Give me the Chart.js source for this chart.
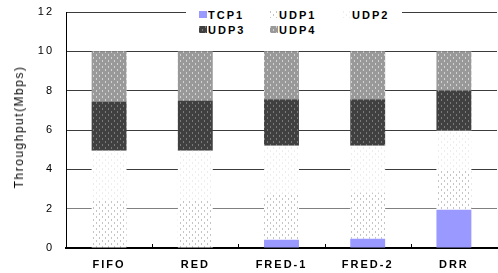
<!DOCTYPE html>
<html>
<head>
<meta charset="utf-8">
<script src="https://cdn.jsdelivr.net/npm/chart.js@4/dist/chart.umd.min.js"></script>
<style>
  body { margin: 0; background: #fff; }
  .wrap { position: relative; width: 498px; height: 273px; }
  canvas { position: absolute; left: 0; top: 0; }
  .legend {
    position: absolute; left: 186px; top: 7px; width: 216px; height: 31px;
    background: #fff; padding-left: 13px; box-sizing: border-box;
    display: grid; grid-template-columns: 71px 73px 72px; grid-auto-rows: 15px;
    font: bold 11px "Liberation Sans", Arial, sans-serif; letter-spacing: 2px; color: #000;
  }
  .legend__item { display: flex; align-items: center; white-space: nowrap; }
  .legend__box { width: 8px; height: 7px; margin-right: 1px; flex: none; }
  .y-title {
    position: absolute; left: 19px; top: 127px; white-space: nowrap;
    font: 12px "Liberation Sans", Arial, sans-serif; letter-spacing: 1.5px; color: #000;
    transform: translate(-50%, -50%) rotate(-90deg);
  }
</style>
</head>
<body>
<div class="wrap">
  <canvas id="chart" width="498" height="273"></canvas>
  <div class="legend js-legend"></div>
  <div class="y-title js-y-title"></div>
</div>
<script>
const categories = ['FIFO', 'RED', 'FRED-1', 'FRED-2', 'DRR'];
const seriesNames = ['TCP1', 'UDP1', 'UDP2', 'UDP3', 'UDP4'];
const tcp1 = [0, 0, 0.42, 0.47, 1.94];
const udp1 = [2.4, 2.42, 2.34, 2.34, 1.99];
const udp2 = [2.55, 2.53, 2.44, 2.39, 2.03];
const udp3 = [2.5, 2.55, 2.36, 2.36, 2.03];
const udp4 = [2.55, 2.5, 2.44, 2.44, 2.01];
const yTitle = 'Throughput(Mbps)';
const yMin = 0;
const yMax = 12;
const yStep = 2;

// small dotted tiles, like the old print fills
const makeTile = (bg, dot, size) => {
  const tile = document.createElement('canvas');
  tile.width = size;
  tile.height = size;
  const c = tile.getContext('2d');
  c.fillStyle = bg;
  c.fillRect(0, 0, size, size);
  if (dot) {
    const h = size / 2;
    c.fillStyle = dot;
    c.fillRect(0, 0, 1, 2);
    c.fillRect(h, h, 1, 2);
  }
  return tile;
};

const tiles = [
  makeTile('#9999ff', null, 4),
  makeTile('#ffffff', '#c4c4c4', 6),
  makeTile('#ffffff', '#ededed', 6),
  makeTile('#404040', '#7a7a7a', 6),
  makeTile('#999999', '#d2d2d2', 6),
];

const canvas = document.getElementById('chart');
const ctx = canvas.getContext('2d');
const fills = tiles.map((t) => ctx.createPattern(t, 'repeat'));
const values = [tcp1, udp1, udp2, udp3, udp4];

const spacing = {
  id: 'spacing',
  beforeLayout(chart) { chart.ctx.letterSpacing = '2px'; },
  beforeDraw(chart) { chart.ctx.letterSpacing = '2px'; },
};

// short inner ticks between the categories
const innerTicks = {
  id: 'innerTicks',
  afterDraw(chart) {
    const x = chart.scales.x;
    const { bottom } = chart.chartArea;
    const half = (x.getPixelForValue(1) - x.getPixelForValue(0)) / 2;
    const c = chart.ctx;
    c.save();
    c.strokeStyle = '#000';
    c.lineWidth = 1;
    for (let i = 0; i < categories.length - 1; i += 1) {
      const px = Math.round(x.getPixelForValue(i) + half) + 0.5;
      c.beginPath();
      c.moveTo(px, bottom);
      c.lineTo(px, bottom - 4);
      c.stroke();
    }
    c.restore();
  },
};

const chart = new Chart(canvas, {
  type: 'bar',
  data: {
    labels: categories,
    datasets: seriesNames.map((name, i) => ({
      label: name,
      data: values[i],
      backgroundColor: fills[i],
      borderWidth: 0,
      barPercentage: 0.405,
      categoryPercentage: 1,
    })),
  },
  options: {
    responsive: false,
    animation: false,
    layout: { padding: { top: 12, right: 1, left: 0, bottom: 0 } },
    plugins: { legend: { display: false }, tooltip: { enabled: false } },
    scales: {
      x: {
        stacked: true,
        grid: { display: false, drawTicks: false },
        border: { color: '#000', width: 2 },
        ticks: { color: '#000', padding: 10, font: { family: 'Liberation Sans', size: 11, weight: 'bold' } },
        afterFit: (scale) => { scale.height = 25; },
      },
      y: {
        stacked: true,
        min: yMin,
        max: yMax,
        grid: {
          drawTicks: false,
          color: (c) => (c.tick && c.tick.value === 2 ? '#808080' : '#3c3c3c'),
        },
        border: { color: '#000', width: 1 },
        ticks: { stepSize: yStep, color: '#000', padding: 12, font: { family: 'Liberation Sans', size: 11 } },
        afterFit: (scale) => {
          scale.width = 66;
          scale.paddingTop = 0;
          scale.paddingBottom = 0;
        },
      },
    },
  },
  plugins: [spacing, innerTicks],
});

document.querySelector('.js-y-title').textContent = yTitle;

const legend = document.querySelector('.js-legend');
chart.data.datasets.forEach((ds, i) => {
  const item = document.createElement('div');
  item.className = 'legend__item';
  const box = document.createElement('span');
  box.className = 'legend__box';
  box.style.backgroundImage = `url(${tiles[i].toDataURL()})`;
  const text = document.createElement('span');
  text.textContent = ds.label;
  item.append(box, text);
  legend.append(item);
});
</script>
</body>
</html>
